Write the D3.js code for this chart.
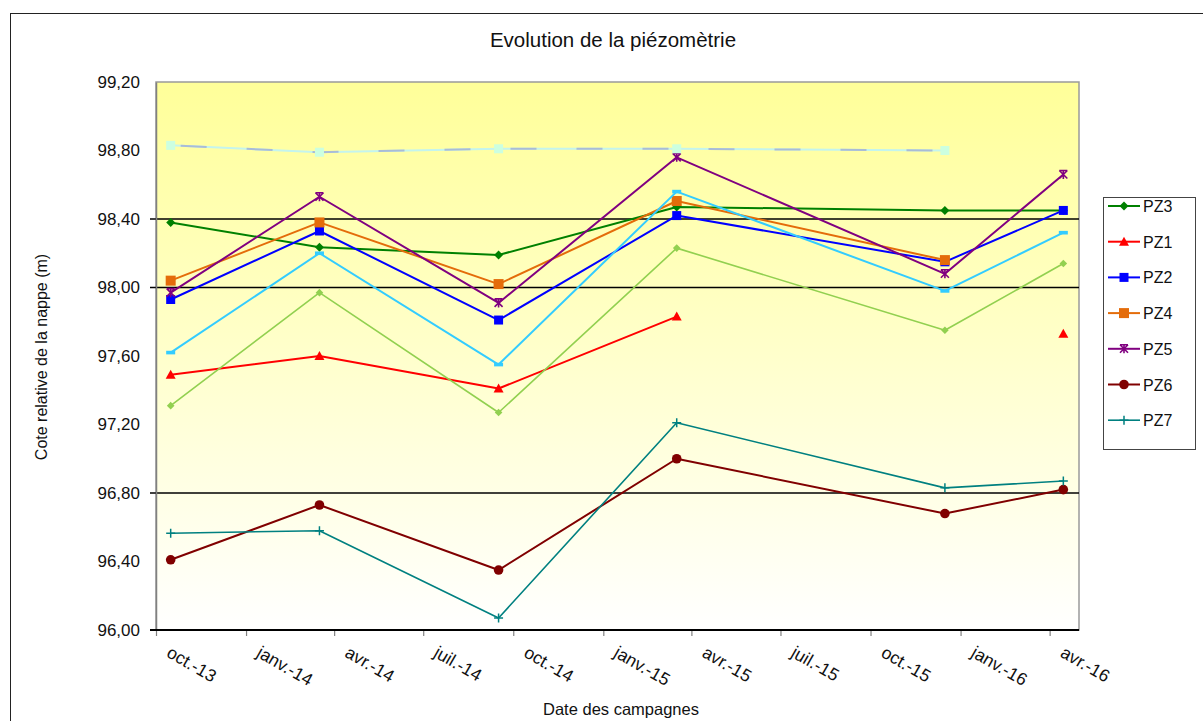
<!DOCTYPE html>
<html><head><meta charset="utf-8">
<script src="https://cdn.jsdelivr.net/npm/d3@7"></script>
<style>
body{margin:0;background:#fff;}
svg{display:block;font-family:"Liberation Sans",Arial,sans-serif;}
</style></head>
<body><svg id="c" width="1203" height="721"></svg>
<script>
// ---- data ----
const dates = ["2013-10-16","2014-03-17","2014-09-16","2015-03-17","2015-12-16","2016-04-15"];
const PZ3 = [98.38, 98.235, 98.19, 98.47, 98.45, 98.45];
const PZ1 = [97.49, 97.60, 97.41, 97.83, null, 97.73];
const PZ2 = [97.93, 98.33, 97.81, 98.42, 98.15, 98.45];
const PZ4 = [98.04, 98.38, 98.02, 98.505, 98.16, null];
const PZ5 = [97.97, 98.53, 97.91, 98.76, 98.08, 98.66];
const PZ6 = [96.41, 96.73, 96.35, 97.00, 96.68, 96.82];
const PZ7 = [96.565, 96.58, 96.07, 97.21, 96.83, 96.87];
const serieVertClair = [97.31, 97.97, 97.27, 98.23, 97.75, 98.14];
const serieCyan = [97.62, 98.20, 97.55, 98.56, 97.98, 98.32];
const serieMenthe = [98.83, 98.79, 98.81, 98.81, 98.80, null];
const refLevels = [98.40, 98.00, 96.80];
const yTicks = [96.00, 96.40, 96.80, 97.20, 97.60, 98.00, 98.40, 98.80, 99.20];
const xTickDates = ["2013-10-01","2014-01-01","2014-04-01","2014-07-01","2014-10-01","2015-01-01","2015-04-01","2015-07-01","2015-10-01","2016-01-01","2016-04-01"];
const xTickLabels = ["oct.-13","janv.-14","avr.-14","juil.-14","oct.-14","janv.-15","avr.-15","juil.-15","oct.-15","janv.-16","avr.-16"];
const title = "Evolution de la piézomètrie";
const yTitle = "Cote relative de la nappe (m)";
const xTitle = "Date des campagnes";

const series = [
  {name:"PZ3", values:PZ3, color:"#008000", marker:"diamond", legend:true, w:2},
  {name:"PZ1", values:PZ1, color:"#FF0000", marker:"triangle", legend:true, w:2},
  {name:"PZ2", values:PZ2, color:"#0000FF", marker:"square", legend:true, w:2},
  {name:"PZ4", values:PZ4, color:"#E46C0A", marker:"bigsquare", legend:true, w:2},
  {name:"PZ5", values:PZ5, color:"#800080", marker:"star", legend:true, w:2},
  {name:"PZ6", values:PZ6, color:"#800000", marker:"circle", legend:true, w:2},
  {name:"PZ7", values:PZ7, color:"#008080", marker:"plus", legend:true, w:1.6},
  {name:"s8", values:serieVertClair, color:"#92D050", marker:"smalldiamond", legend:false, w:1.6},
  {name:"s9", values:serieCyan, color:"#33CCFF", marker:"dash", legend:false, w:2},
  {name:"s10", values:serieMenthe, color:"#C4F4EE", marker:"mint", legend:false, w:2}
];

// ---- layout ----
const svg = d3.select("#c");
const L = 156, R = 1079, T = 82, B = 630;
const parse = d3.utcParse("%Y-%m-%d");
const x = d3.scaleUtc().domain([parse("2013-10-01"), parse("2016-05-01")]).range([L, R]);
const y = d3.scaleLinear().domain([96, 99.2]).range([B, T]);

// outer border
svg.append("rect").attr("x",10.5).attr("y",13.5).attr("width",1400).attr("height",900)
  .attr("fill","#fff").attr("stroke","#222").attr("stroke-width",1);

// gradient
const defs = svg.append("defs");
const g = defs.append("linearGradient").attr("id","bg").attr("x1",0).attr("y1",0).attr("x2",0).attr("y2",1);
g.append("stop").attr("offset","0%").attr("stop-color","#FFFF99");
g.append("stop").attr("offset","100%").attr("stop-color","#FFFFFF");

svg.append("rect").attr("x",L).attr("y",T).attr("width",R-L).attr("height",B-T)
  .attr("fill","url(#bg)").attr("stroke","#9a9a9a").attr("stroke-width",1.5);

// title
svg.append("text").attr("x",613).attr("y",47).attr("text-anchor","middle")
  .attr("font-size",20.5).attr("fill","#111").text(title);

// reference lines
svg.selectAll("line.ref").data(refLevels).enter().append("line")
  .attr("x1",150).attr("x2",R).attr("y1",d=>y(d)).attr("y2",d=>y(d))
  .attr("stroke","#000").attr("stroke-width",1.4);

// y axis
const yAxis = svg.append("g").attr("transform",`translate(${L},0)`)
  .call(d3.axisLeft(y).tickValues(yTicks).tickSize(0).tickPadding(16)
    .tickFormat(d=>d.toFixed(2).replace(".",",")));
yAxis.select(".domain").attr("stroke","#808080").attr("stroke-width",1.5);
yAxis.selectAll("text").attr("font-size",17).attr("fill","#111")
  .attr("font-family","'Liberation Sans',Arial,sans-serif");

// x axis
const xAxis = svg.append("g").attr("transform",`translate(0,${B})`)
  .call(d3.axisBottom(x).tickValues(xTickDates.map(parse)).tickSize(6)
    .tickFormat((d,i)=>xTickLabels[i]));
xAxis.select(".domain").remove();
xAxis.selectAll(".tick line").attr("stroke","#808080").attr("stroke-width",1.2);
xAxis.selectAll(".tick text")
  .attr("font-size",17.5).attr("fill","#111").attr("text-anchor","start")
  .attr("font-family","'Liberation Sans',Arial,sans-serif")
  .attr("y",null).attr("dy",null)
  .attr("transform","translate(9,26) rotate(30)");
svg.append("line").attr("x1",150).attr("x2",R).attr("y1",B).attr("y2",B)
  .attr("stroke","#000").attr("stroke-width",1.8);

// axis titles
svg.append("text").attr("transform","translate(47,357) rotate(-90)").attr("text-anchor","middle")
  .attr("font-size",16).attr("fill","#111").text(yTitle);
svg.append("text").attr("x",621).attr("y",715).attr("text-anchor","middle")
  .attr("font-size",16.5).attr("fill","#111").text(xTitle);

// markers
function marker(sel, type, color){
  const r = 4.5;
  if(type==="diamond"){ sel.append("path").attr("d",`M0,${-r}L${r},0L0,${r}L${-r},0Z`).attr("fill",color); }
  else if(type==="smalldiamond"){ const q=3.8; sel.append("path").attr("d",`M0,${-q}L${q},0L0,${q}L${-q},0Z`).attr("fill",color); }
  else if(type==="triangle"){ sel.append("path").attr("d",`M0,-5L5,4L-5,4Z`).attr("fill",color); }
  else if(type==="square"){ sel.append("rect").attr("x",-4.5).attr("y",-4.5).attr("width",9).attr("height",9).attr("fill",color); }
  else if(type==="bigsquare"){ sel.append("rect").attr("x",-5).attr("y",-5).attr("width",10).attr("height",10).attr("fill",color); }
  else if(type==="mint"){ sel.append("rect").attr("x",-4.5).attr("y",-4.5).attr("width",9).attr("height",9).attr("fill","#CCFFE0"); }
  else if(type==="circle"){ sel.append("circle").attr("r",4.8).attr("fill",color); }
  else if(type==="plus"){ sel.append("path").attr("d",`M-4.5,0H4.5M0,-4.5V4.5`).attr("stroke",color).attr("stroke-width",1.5).attr("fill","none"); }
  else if(type==="star"){ sel.append("path").attr("d",`M-4,-4L4,4M4,-4L-4,4M0,-4.5V4.5M-4,-4H4`).attr("stroke",color).attr("stroke-width",1.6).attr("fill","none"); }
  else if(type==="dash"){ sel.append("rect").attr("x",-4.5).attr("y",-1.8).attr("width",9).attr("height",3.6).attr("fill",color); }
}

const plot = svg.append("g");
series.forEach(s=>{
  const pts = s.values.map((v,i)=>({d:parse(dates[i]), v}));
  const line = d3.line().defined(p=>p.v!==null).x(p=>x(p.d)).y(p=>y(p.v));
  plot.append("path").datum(pts).attr("d",line).attr("fill","none")
    .attr("stroke",s.color).attr("stroke-width",s.w).attr("stroke-linejoin","round");
  if(s.marker==="mint"){
    plot.append("path").datum(pts).attr("d",line).attr("fill","none")
      .attr("stroke","#A9BCD6").attr("stroke-width",2).attr("stroke-dasharray","26,40").attr("stroke-dashoffset",-10);
  }
  pts.filter(p=>p.v!==null).forEach(p=>{
    marker(plot.append("g").attr("transform",`translate(${x(p.d)},${y(p.v)})`), s.marker, s.color);
  });
});

// legend
const lg = svg.append("g");
lg.append("rect").attr("x",1103.5).attr("y",197.5).attr("width",92).attr("height",252)
  .attr("fill","#fff").attr("stroke","#444").attr("stroke-width",1);
series.filter(s=>s.legend).forEach((s,i)=>{
  const cy = 206 + i*35.7;
  lg.append("line").attr("x1",1108).attr("x2",1140).attr("y1",cy).attr("y2",cy)
    .attr("stroke",s.color).attr("stroke-width",s.w);
  marker(lg.append("g").attr("transform",`translate(1124,${cy})`), s.marker, s.color);
  lg.append("text").attr("x",1143).attr("y",cy+6).attr("font-size",16).attr("fill","#111").text(s.name);
});
</script></body></html>
